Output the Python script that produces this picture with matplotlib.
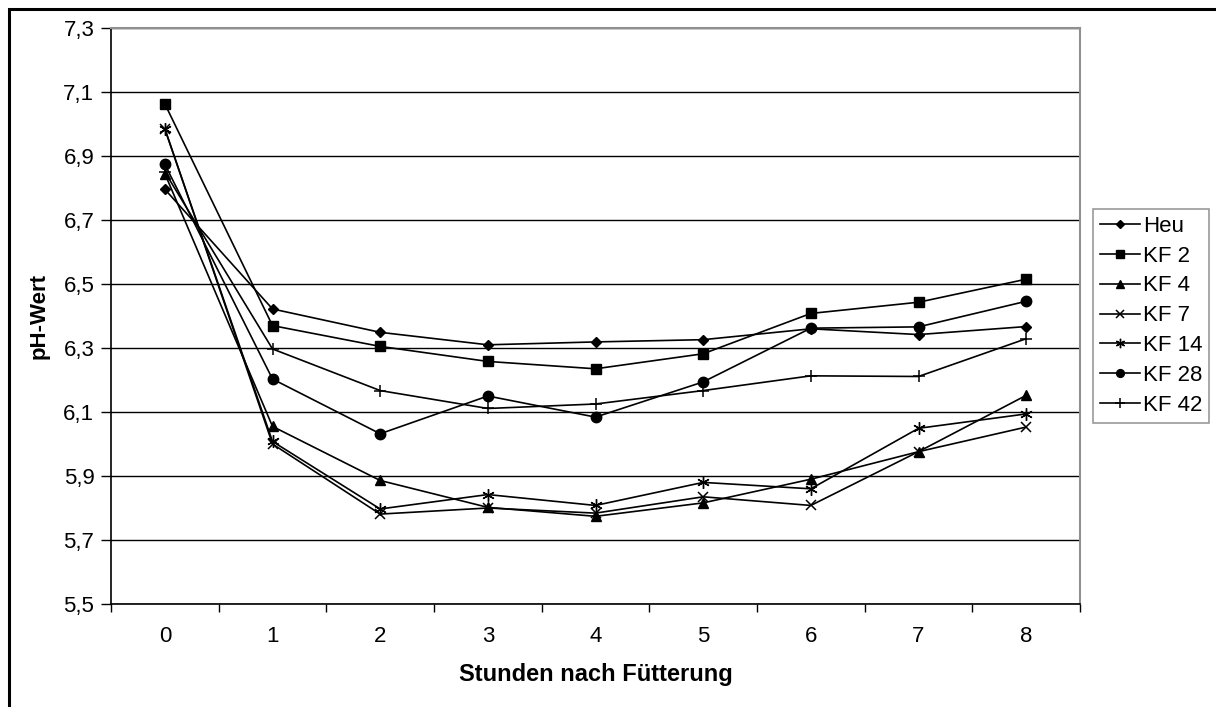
import numpy as np
import matplotlib
matplotlib.use('Agg')
import matplotlib.pyplot as plt
from matplotlib.patches import Rectangle

plt.rcParams['font.family'] = ['Liberation Sans', 'DejaVu Sans']

hours = [0, 1, 2, 3, 4, 5, 6, 7, 8]
heu = [6.796, 6.422, 6.349, 6.310, 6.319, 6.326, 6.360, 6.342, 6.367]
kf2 = [7.063, 6.370, 6.305, 6.258, 6.235, 6.282, 6.408, 6.443, 6.515]
kf4 = [6.845, 6.055, 5.886, 5.802, 5.774, 5.816, 5.890, 5.976, 6.152]
kf7 = [6.985, 6.000, 5.781, 5.800, 5.784, 5.835, 5.808, 5.976, 6.053]
kf14 = [6.985, 6.008, 5.797, 5.842, 5.808, 5.880, 5.860, 6.049, 6.094]
kf28 = [6.874, 6.203, 6.032, 6.150, 6.084, 6.194, 6.362, 6.366, 6.446]
kf42 = [6.850, 6.297, 6.167, 6.111, 6.125, 6.167, 6.213, 6.211, 6.329]

series_names = ['Heu', 'KF 2', 'KF 4', 'KF 7', 'KF 14', 'KF 28', 'KF 42']
series_values = [heu, kf2, kf4, kf7, kf14, kf28, kf42]
y_ticks = [5.5, 5.7, 5.9, 6.1, 6.3, 6.5, 6.7, 6.9, 7.1, 7.3]

styles = [
    dict(marker='D', markersize=5.5),
    dict(marker='s', markersize=7.5),
    dict(marker='^', markersize=7.5),
    dict(marker='x', markersize=7.5, markeredgewidth=1.1),
    dict(marker=(6, 2, 0), markersize=9, markeredgewidth=1.0),
    dict(marker='o', markersize=7.5),
    dict(marker='+', markersize=9, markeredgewidth=1.1),
]

fig = plt.figure(figsize=(12.16, 7.07), dpi=100)
ax = fig.add_axes([111 / 1216, 1 - 604 / 707, (1080 - 111) / 1216, (604 - 28) / 707])

for name, vals, st in zip(series_names, series_values, styles):
    ax.plot(hours, vals, color='black', linewidth=1.2, label=name,
            markerfacecolor='black', markeredgecolor='black', **st)

ax.set_xlim(-0.5, 8.5)
ax.set_ylim(5.5, 7.3)
ax.set_yticks(y_ticks)
ax.set_yticklabels([('%.1f' % v).replace('.', ',') for v in y_ticks], fontsize=16)
ax.yaxis.grid(True, color='black', linewidth=1.0)
ax.set_axisbelow(True)

# category labels centred, tick marks between categories
ax.set_xticks(hours)
ax.set_xticklabels([str(h) for h in hours], fontsize=16)
ax.tick_params(axis='x', length=0, pad=16)
ax.set_xticks(np.arange(-0.5, 9, 1), minor=True)
ax.tick_params(axis='x', which='minor', length=6, width=1, direction='out')
ax.tick_params(axis='y', length=7, width=1, direction='out', pad=5)

for side in ['top', 'right']:
    ax.spines[side].set_color('#909090')
    ax.spines[side].set_linewidth(1.5)
for side in ['left', 'bottom']:
    ax.spines[side].set_color('black')
    ax.spines[side].set_linewidth(1.2)

ax.set_xlabel('Stunden nach Fütterung', fontsize=17, fontweight='bold', labelpad=11)
ax.set_ylabel('pH-Wert', fontsize=16, fontweight='bold', labelpad=10)

leg = ax.legend(loc='upper left', bbox_to_anchor=(1093 / 1216, 1 - 209 / 707),
                bbox_transform=fig.transFigure, fontsize=16, frameon=True,
                fancybox=False, edgecolor='#808080', handlelength=1.8,
                handletextpad=0.15, borderpad=0.3, labelspacing=0.40,
                borderaxespad=0, markerscale=0.75)
leg.get_frame().set_linewidth(1.2)

# outer chart frame
fig.patches.append(Rectangle((9 / 1216, -0.05), 1.2, 1 - 9 / 707 + 0.05,
                             transform=fig.transFigure, fill=False,
                             edgecolor='black', linewidth=2.2))

fig.savefig('out.png', dpi=100)
